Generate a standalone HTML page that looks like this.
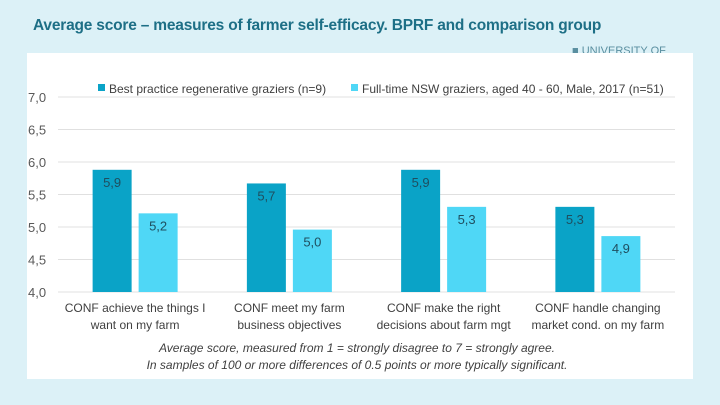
<!DOCTYPE html>
<html><head><meta charset="utf-8">
<style>
body{margin:0;width:720px;height:405px;background:#dcf1f7;overflow:hidden;font-family:"Liberation Sans",sans-serif;}
#title{position:absolute;left:33px;top:17px;font-size:15.5px;font-weight:bold;color:#1d6f86;letter-spacing:-0.2px;white-space:nowrap;}
#uni{position:absolute;left:572px;top:45px;font-size:11px;color:#5a8fa0;}
#panel{position:absolute;left:27px;top:53px;width:666px;height:326px;background:#fff;}
svg{position:absolute;left:0;top:0;}
</style></head><body>
<div id="title">Average score – measures of farmer self-efficacy. BPRF and comparison group</div>
<div id="uni">■ UNIVERSITY OF</div>
<div id="panel"></div>
<svg id="chart" width="720" height="405"></svg>
<script>
const categories=[["CONF achieve the things I","want on my farm"],["CONF meet my farm","business objectives"],["CONF make the right","decisions about farm mgt"],["CONF handle changing","market cond. on my farm"]];
const seriesNames=["Best practice regenerative graziers (n=9)","Full-time NSW graziers, aged 40 - 60, Male, 2017 (n=51)"];
const bprf=[5.88,5.67,5.88,5.31];
const comparison=[5.21,4.96,5.31,4.86];
const labelsBprf=["5,9","5,7","5,9","5,3"];
const labelsComp=["5,2","5,0","5,3","4,9"];
const yTicks=[4.0,4.5,5.0,5.5,6.0,6.5,7.0];
const yTickLabels=["4,0","4,5","5,0","5,5","6,0","6,5","7,0"];
const svg=document.getElementById('chart');const NS="http://www.w3.org/2000/svg";
const x0=58,x1=675,yMin=4,yMax=7,py0=292,py1=97;
const y=v=>py0-(v-yMin)/(yMax-yMin)*(py0-py1);
const gw=(x1-x0)/categories.length;
const gx=i=>x0+gw*(i+0.5);
function el(t,a,txt){const e=document.createElementNS(NS,t);for(const k in a)e.setAttribute(k,a[k]);if(txt!==undefined)e.textContent=txt;svg.appendChild(e);return e;}
yTicks.forEach((t,i)=>{
 const g=el('line',{x1:x0,x2:x1,y1:y(t),y2:y(t),stroke:'#e0e0e0','stroke-width':1});
 
 
 const l=el('text',{x:28,y:y(t)+5,'font-size':13,fill:'#595959'},yTickLabels[i]);
 
 
});
const bw=39,gap=7;const cols=['#0aa3c7','#4fd7f6'];
[bprf,comparison].forEach((s,si)=>{
 const labs=si?labelsComp:labelsBprf;
 s.forEach((v,i)=>{
  const bx=gx(i)-gap/2-bw+si*(bw+gap);
  const r=el('rect',{x:bx,y:y(v),width:bw,height:py0-y(v),fill:cols[si]});
  
  
  const t=el('text',{x:bx+bw/2,y:y(v)+17,'text-anchor':'middle','font-size':13,fill:'#1f4e5f'},labs[i]);
  
  
 });
});
categories.forEach((c,i)=>{
 c.forEach((ln,j)=>{
  const t=el('text',{x:gx(i),y:312+j*17,'text-anchor':'middle','font-size':12,fill:'#404040'},ln);
  
  
 });
});
[[98,0],[351,1]].forEach(([lx,i])=>{
 const r=el('rect',{x:lx,y:84,width:7,height:7,fill:cols[i]});
 
 
 const t=el('text',{x:lx+11,y:93,'font-size':12,fill:'#404040'},seriesNames[i]);
 
 
});
["Average score, measured from 1 = strongly disagree to 7 = strongly agree.","In samples of 100 or more differences of 0.5 points or more typically significant."].forEach((s,j)=>{
 const t=el('text',{x:357,y:352+j*17,'text-anchor':'middle','font-size':12,'font-style':'italic',fill:'#404040'},s);
 
 
});
</script>
</body></html>
